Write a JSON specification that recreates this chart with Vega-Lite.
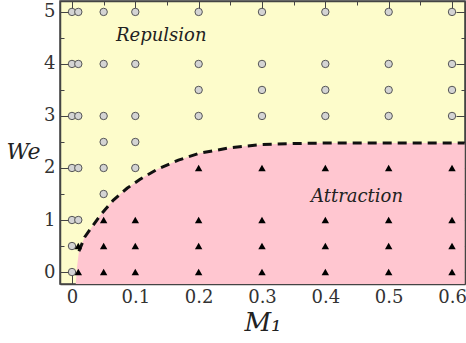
{
  "$schema": "https://vega.github.io/schema/vega-lite/v6.json",
  "width": 405,
  "height": 283,
  "autosize": "none",
  "padding": {"left": 60, "top": 1, "right": 1, "bottom": 59},
  "background": "white",
  "config": {
    "font": "DejaVu Serif",
    "view": {"fill": "#fdfccb", "stroke": "#444", "strokeWidth": 1.5},
    "axis": {"grid": false, "labelFont": "DejaVu Serif", "titleFont": "DejaVu Serif", "labelColor": "#333", "tickColor": "#444", "domainColor": "#444", "labelFontSize": 18, "titleColor": "#222"}
  },
  "datasets": {
    "boundary": [
      {"M": 0.006, "We": -0.23},
      {"M": 0.008, "We": 0.1},
      {"M": 0.011, "We": 0.4},
      {"M": 0.02, "We": 0.67},
      {"M": 0.044, "We": 1.08},
      {"M": 0.065, "We": 1.38},
      {"M": 0.087, "We": 1.61},
      {"M": 0.107, "We": 1.78},
      {"M": 0.134, "We": 1.97},
      {"M": 0.168, "We": 2.15},
      {"M": 0.2, "We": 2.28},
      {"M": 0.25, "We": 2.39},
      {"M": 0.3, "We": 2.45},
      {"M": 0.35, "We": 2.47},
      {"M": 0.4, "We": 2.48},
      {"M": 0.62, "We": 2.48}
    ],
    "points": [
      {"M": 0, "We": 0, "type": "Repulsion"},
      {"M": 0, "We": 0.5, "type": "Repulsion"},
      {"M": 0, "We": 1, "type": "Repulsion"},
      {"M": 0, "We": 2, "type": "Repulsion"},
      {"M": 0, "We": 3, "type": "Repulsion"},
      {"M": 0, "We": 4, "type": "Repulsion"},
      {"M": 0, "We": 5, "type": "Repulsion"},
      {"M": 0.01, "We": 0, "type": "Attraction"},
      {"M": 0.01, "We": 0.5, "type": "Attraction"},
      {"M": 0.01, "We": 1, "type": "Repulsion"},
      {"M": 0.01, "We": 2, "type": "Repulsion"},
      {"M": 0.01, "We": 3, "type": "Repulsion"},
      {"M": 0.01, "We": 4, "type": "Repulsion"},
      {"M": 0.01, "We": 5, "type": "Repulsion"},
      {"M": 0.05, "We": 0, "type": "Attraction"},
      {"M": 0.05, "We": 0.5, "type": "Attraction"},
      {"M": 0.05, "We": 1, "type": "Attraction"},
      {"M": 0.05, "We": 1.5, "type": "Repulsion"},
      {"M": 0.05, "We": 2, "type": "Repulsion"},
      {"M": 0.05, "We": 2.5, "type": "Repulsion"},
      {"M": 0.05, "We": 3, "type": "Repulsion"},
      {"M": 0.05, "We": 4, "type": "Repulsion"},
      {"M": 0.05, "We": 5, "type": "Repulsion"},
      {"M": 0.1, "We": 0, "type": "Attraction"},
      {"M": 0.1, "We": 0.5, "type": "Attraction"},
      {"M": 0.1, "We": 1, "type": "Attraction"},
      {"M": 0.1, "We": 2, "type": "Repulsion"},
      {"M": 0.1, "We": 2.5, "type": "Repulsion"},
      {"M": 0.1, "We": 3, "type": "Repulsion"},
      {"M": 0.1, "We": 4, "type": "Repulsion"},
      {"M": 0.1, "We": 5, "type": "Repulsion"},
      {"M": 0.2, "We": 0, "type": "Attraction"},
      {"M": 0.2, "We": 0.5, "type": "Attraction"},
      {"M": 0.2, "We": 1, "type": "Attraction"},
      {"M": 0.2, "We": 2, "type": "Attraction"},
      {"M": 0.2, "We": 3, "type": "Repulsion"},
      {"M": 0.2, "We": 3.5, "type": "Repulsion"},
      {"M": 0.2, "We": 4, "type": "Repulsion"},
      {"M": 0.2, "We": 5, "type": "Repulsion"},
      {"M": 0.3, "We": 0, "type": "Attraction"},
      {"M": 0.3, "We": 0.5, "type": "Attraction"},
      {"M": 0.3, "We": 1, "type": "Attraction"},
      {"M": 0.3, "We": 2, "type": "Attraction"},
      {"M": 0.3, "We": 3, "type": "Repulsion"},
      {"M": 0.3, "We": 3.5, "type": "Repulsion"},
      {"M": 0.3, "We": 4, "type": "Repulsion"},
      {"M": 0.3, "We": 5, "type": "Repulsion"},
      {"M": 0.4, "We": 0, "type": "Attraction"},
      {"M": 0.4, "We": 0.5, "type": "Attraction"},
      {"M": 0.4, "We": 1, "type": "Attraction"},
      {"M": 0.4, "We": 2, "type": "Attraction"},
      {"M": 0.4, "We": 3, "type": "Repulsion"},
      {"M": 0.4, "We": 3.5, "type": "Repulsion"},
      {"M": 0.4, "We": 4, "type": "Repulsion"},
      {"M": 0.4, "We": 5, "type": "Repulsion"},
      {"M": 0.5, "We": 0, "type": "Attraction"},
      {"M": 0.5, "We": 0.5, "type": "Attraction"},
      {"M": 0.5, "We": 1, "type": "Attraction"},
      {"M": 0.5, "We": 2, "type": "Attraction"},
      {"M": 0.5, "We": 3, "type": "Repulsion"},
      {"M": 0.5, "We": 3.5, "type": "Repulsion"},
      {"M": 0.5, "We": 4, "type": "Repulsion"},
      {"M": 0.5, "We": 5, "type": "Repulsion"},
      {"M": 0.6, "We": 0, "type": "Attraction"},
      {"M": 0.6, "We": 0.5, "type": "Attraction"},
      {"M": 0.6, "We": 1, "type": "Attraction"},
      {"M": 0.6, "We": 2, "type": "Attraction"},
      {"M": 0.6, "We": 3, "type": "Repulsion"},
      {"M": 0.6, "We": 3.5, "type": "Repulsion"},
      {"M": 0.6, "We": 4, "type": "Repulsion"},
      {"M": 0.6, "We": 5, "type": "Repulsion"}
    ],
    "labels": [
      {"M": 0.141, "We": 4.54, "label": "Repulsion"},
      {"M": 0.45, "We": 1.44, "label": "Attraction"}
    ]
  },
  "resolve": {"axis": {"x": "independent", "y": "independent"}},
  "layer": [
    {
      "data": {"name": "boundary"},
      "mark": {"type": "area", "color": "#ffc6d0", "clip": true},
      "encoding": {
        "x": {"field": "M", "type": "quantitative", "scale": {"domain": [-0.0189, 0.6205], "nice": false, "zero": false},
          "axis": {"orient": "bottom", "values": [0, 0.1, 0.2, 0.3, 0.4, 0.5, 0.6], "tickSize": -9, "labelPadding": 13, "format": "~g", "title": "M₁", "titleFontSize": 26, "titleFontStyle": "italic", "titleFontWeight": "normal", "titlePadding": 3, "domainWidth": 1.5}},
        "y": {"field": "We", "type": "quantitative", "scale": {"domain": [-0.23, 5.21], "nice": false, "zero": false},
          "axis": {"orient": "left", "values": [0, 1, 2, 3, 4, 5], "tickSize": -9, "labelPadding": 14, "title": "We", "titleAngle": 0, "titleFontSize": 22, "titleFontStyle": "italic", "titleFontWeight": "normal", "titleX": -37, "titleY": 150, "titleAlign": "center", "titleBaseline": "middle", "domainWidth": 1.5}},
        "y2": {"datum": -0.23}
      }
    },
    {
      "data": {"name": "boundary"},
      "transform": [{"filter": "datum.We >= 0.4"}],
      "mark": {"type": "line", "color": "#111", "strokeWidth": 3, "strokeDash": [9, 6], "clip": true},
      "encoding": {
        "x": {"field": "M", "type": "quantitative", "axis": {"orient": "bottom", "values": [0.05, 0.15, 0.25, 0.35, 0.45, 0.55], "tickSize": -4, "labels": false, "title": null, "domain": false}},
        "y": {"field": "We", "type": "quantitative", "axis": {"orient": "left", "values": [0.5, 1.5, 2.5, 3.5, 4.5], "tickSize": -4, "labels": false, "title": null, "domain": false}}
      }
    },
    {
      "data": {"name": "points"},
      "transform": [{"filter": "datum.type === 'Repulsion'"}],
      "mark": {"type": "point", "shape": "circle", "filled": true, "fill": "#d4d4d4", "stroke": "#555", "strokeWidth": 1, "size": 55, "opacity": 1},
      "encoding": {
        "x": {"field": "M", "type": "quantitative", "axis": {"orient": "top", "values": [0, 0.1, 0.2, 0.3, 0.4, 0.5, 0.6], "tickSize": -9, "labels": false, "title": null, "domainWidth": 1.5}},
        "y": {"field": "We", "type": "quantitative", "axis": {"orient": "right", "values": [0, 1, 2, 3, 4, 5], "tickSize": -9, "labels": false, "title": null, "domainWidth": 1.5}}
      }
    },
    {
      "data": {"name": "points"},
      "transform": [{"filter": "datum.type === 'Attraction'"}],
      "mark": {"type": "point", "shape": "triangle-up", "filled": true, "fill": "#000", "size": 55, "opacity": 1},
      "encoding": {
        "x": {"field": "M", "type": "quantitative", "axis": {"orient": "top", "values": [0.05, 0.15, 0.25, 0.35, 0.45, 0.55], "tickSize": -4, "labels": false, "title": null, "domain": false}},
        "y": {"field": "We", "type": "quantitative", "axis": {"orient": "right", "values": [0.5, 1.5, 2.5, 3.5, 4.5], "tickSize": -4, "labels": false, "title": null, "domain": false}}
      }
    },
    {
      "data": {"name": "labels"},
      "mark": {"type": "text", "font": "DejaVu Serif", "fontStyle": "italic", "fontSize": 18, "color": "#222"},
      "encoding": {
        "x": {"field": "M", "type": "quantitative", "axis": null},
        "y": {"field": "We", "type": "quantitative", "axis": null},
        "text": {"field": "label"}
      }
    }
  ]
}
